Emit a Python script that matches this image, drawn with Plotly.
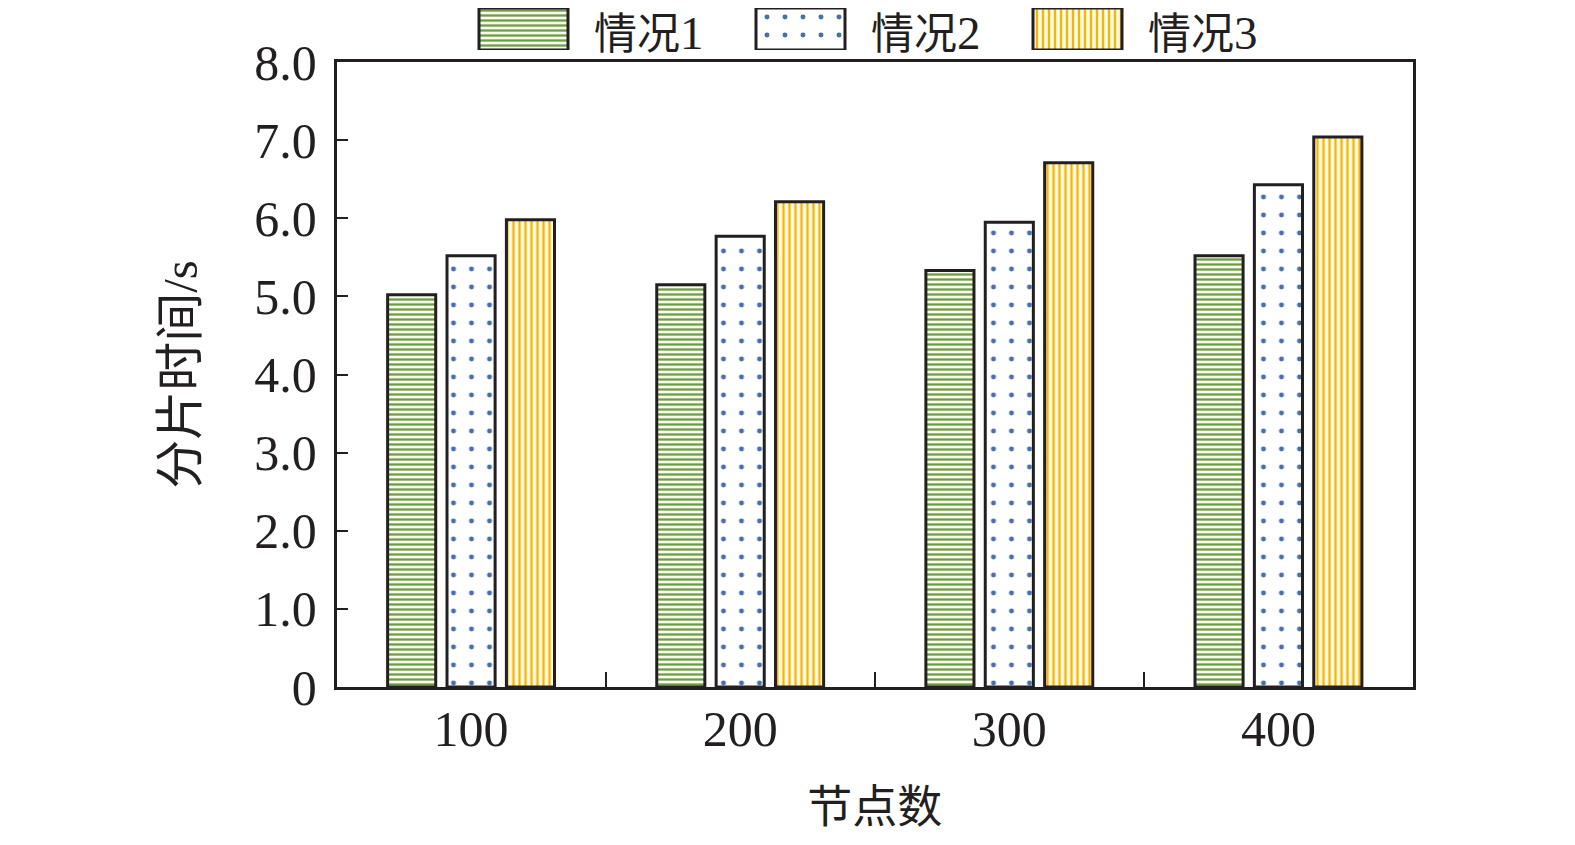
import plotly.graph_objects as go

categories = ["100", "200", "300", "400"]
series_names = ["情况1", "情况2", "情况3"]
case1 = [5.02, 5.15, 5.33, 5.52]
case2 = [5.52, 5.77, 5.95, 6.43]
case3 = [5.98, 6.21, 6.71, 7.04]
y_ticks = [0, 1, 2, 3, 4, 5, 6, 7, 8]
y_tick_labels = ["0", "1.0", "2.0", "3.0", "4.0", "5.0", "6.0", "7.0", "8.0"]

OFF = 8  # page body margin
W, H = 1575 - OFF, 845 - OFF
L, R, T, B = 336.5 - OFF, 1413 - OFF, 62 - OFF, 687 - OFF
INK = "#231f20"
SERIF = "Liberation Serif, Times New Roman, Noto Sans CJK SC, serif"

styles = [
    dict(shape="-", fgcolor="#6e9b45", bgcolor="#f6fbec", size=5, solidity=0.45),
    dict(shape=".", fgcolor="#4a6fa8", bgcolor="#ffffff", size=18, solidity=0.06),
    dict(shape="|", fgcolor="#f2b705", bgcolor="#fffbe6", size=6, solidity=0.4),
]


def rich(label, latin_px):
    """Render trailing latin part of a label at its own size."""
    i = len(label)
    while i > 0 and ord(label[i - 1]) < 0x2E80:
        i -= 1
    head, tail = label[:i], label[i:]
    return f"{head}<span style='font-size:{latin_px}px'>{tail}</span>" if tail else head


fig = go.Figure()
for name, vals, st in zip(series_names, [case1, case2, case3], styles):
    fig.add_trace(go.Bar(
        x=categories, y=vals, name=name, showlegend=False,
        marker=dict(color=st["bgcolor"], line=dict(color=INK, width=3),
                    pattern=dict(shape=st["shape"], fgcolor=st["fgcolor"],
                                 bgcolor=st["bgcolor"], size=st["size"],
                                 solidity=st["solidity"], fillmode="replace")),
        xaxis="x", yaxis="y",
    ))

# custom legend patches on a hidden helper axis
LX0 = 470 - OFF
for i, (name, st) in enumerate(zip(series_names, styles)):
    fig.add_trace(go.Bar(
        x=[name], y=[1], base=[0], width=[89 / 277], offset=-0.4675,
        showlegend=False, hoverinfo="skip",
        marker=dict(color=st["bgcolor"], line=dict(color=INK, width=3),
                    pattern=dict(shape=st["shape"], fgcolor=st["fgcolor"],
                                 bgcolor=st["bgcolor"], size=st["size"],
                                 solidity=st["solidity"], fillmode="replace")),
        xaxis="x2", yaxis="y2",
    ))
    fig.add_annotation(x=name, y=0.5, xref="x2", yref="y2", text=rich(name, 47),
                       showarrow=False, xanchor="left", yanchor="middle",
                       xshift=-17, yshift=-4, font=dict(family=SERIF, size=43, color=INK))

fig.update_layout(
    width=W, height=H,
    margin=dict(l=0, r=0, t=0, b=0),
    paper_bgcolor="white", plot_bgcolor="white",
    barmode="group", bargap=0.338, bargroupgap=0.19,
    showlegend=False,
    font=dict(family=SERIF, color=INK),
    xaxis=dict(
        domain=[L / W, R / W], type="category",
        showline=True, linecolor=INK, linewidth=2.5, mirror=True,
        ticks="inside", ticklen=15, tickwidth=2, tickcolor=INK,
        tickson="boundaries", showgrid=False, zeroline=False,
        tickfont=dict(family=SERIF, size=50, color=INK),
        ticklabelstandoff=-4,
        title=dict(text="节点数", font=dict(family=SERIF, size=45, color=INK), standoff=36),
        automargin=False,
    ),
    yaxis=dict(
        domain=[(H - B) / H, (H - T) / H], range=[0, 8],
        tickvals=y_ticks, ticktext=y_tick_labels,
        showline=True, linecolor=INK, linewidth=2.5, mirror=True,
        ticks="inside", ticklen=12, tickwidth=2, tickcolor=INK,
        showgrid=False, zeroline=False,
        tickfont=dict(family=SERIF, size=50, color=INK),
        ticklabelstandoff=7,
        title=dict(text="分片时间/s", font=dict(family=SERIF, size=49, color=INK), standoff=42),
        automargin=False,
    ),
    xaxis2=dict(domain=[LX0 / W, (LX0 + 831) / W], type="category", range=[-0.5, 2.5],
                visible=False, anchor="y2", fixedrange=True),
    yaxis2=dict(domain=[(H - (50 - OFF)) / H, (H - (8 - OFF)) / H], range=[0, 1],
                visible=False, anchor="x2", fixedrange=True),
)

fig.write_html("out.html")
